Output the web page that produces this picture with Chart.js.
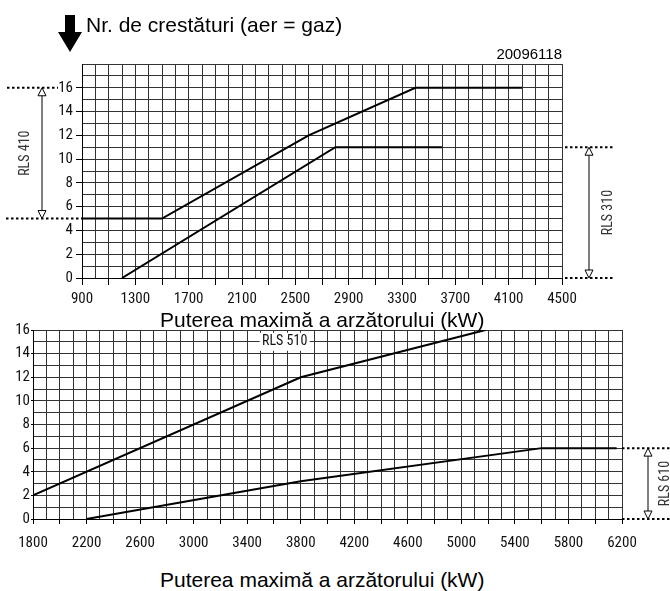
<!DOCTYPE html>
<html>
<head>
<meta charset="utf-8">
<script src="https://cdn.jsdelivr.net/npm/chart.js@4.4.1/dist/chart.umd.min.js"></script>
<style>
  html, body { margin: 0; padding: 0; background: #fff; }
  body { width: 670px; height: 591px; position: relative; overflow: hidden; font-family: "Liberation Sans", Arial, sans-serif; }
  .box { position: absolute; left: 0; width: 670px; }
  .txt { position: absolute; line-height: 1; white-space: nowrap; color: #000; }
</style>
</head>
<body>
<div class="box" style="top:0;height:305px"><canvas id="topChart"></canvas></div>
<div class="box" style="top:320px;height:240px"><canvas id="bottomChart"></canvas></div>

<svg style="position:absolute;left:0;top:0" width="100" height="60">
  <polygon points="65,15 75,15 75,32 82,32 70,52 58,32 65,32" fill="#000"/>
</svg>
<div class="txt" style="left:86px;top:14px;font-size:21px">Nr. de crestături (aer = gaz)</div>
<div class="txt" style="right:108px;top:46px;font-size:15px">20096118</div>
<div class="txt" style="left:160px;top:309px;font-size:21px">Puterea maximă a arzătorului (kW)</div>
<div class="txt" style="left:160px;top:569px;font-size:21px">Puterea maximă a arzătorului (kW)</div>

<script>
// grafic de sus: RLS 410 si RLS 310
const topXTicks = [900, 1300, 1700, 2100, 2500, 2900, 3300, 3700, 4100, 4500];
const topYTicks = [0, 2, 4, 6, 8, 10, 12, 14, 16];
const rls410Power = [900, 1500, 2600, 3400, 4200];
const rls410Notches = [5, 5, 12, 16, 16];
const rls310Power = [1200, 2800, 3600];
const rls310Notches = [0, 11, 11];

// grafic de jos: RLS 510 si RLS 610
const bottomXTicks = [1800, 2200, 2600, 3000, 3400, 3800, 4200, 4600, 5000, 5400, 5800, 6200];
const bottomYTicks = [0, 2, 4, 6, 8, 10, 12, 14, 16];
const rls510Power = [1800, 3800, 5180];
const rls510Notches = [2, 12, 16];
const rls610Power = [2200, 3800, 5600, 6160];
const rls610Notches = [0, 3.2, 6, 6];

// intervalele marcate cu sageti
const rls410Range = [5, 16];
const rls310Range = [0, 11];
const rls610Range = [0, 6];

const narrow = '"Roboto Condensed", "DejaVu Sans Condensed", sans-serif';
Chart.defaults.font.family = narrow;
Chart.defaults.color = '#111';

function toPoints(xs, ys) {
    return xs.map((x, i) => ({ x: x, y: ys[i] }));
}

function lineSet(xs, ys) {
    return {
        data: toPoints(xs, ys),
        borderColor: '#000',
        borderWidth: 2,
        pointRadius: 0,
        fill: false,
        tension: 0
    };
}

// sageata verticala cu varfuri deschise
function drawArrow(ctx, x, yTop, yBot) {
    ctx.setLineDash([]);
    ctx.lineWidth = 1;
    ctx.strokeStyle = '#000';
    ctx.beginPath();
    ctx.moveTo(x, yTop + 8);
    ctx.lineTo(x, yBot - 8);
    ctx.stroke();
    ctx.fillStyle = '#fff';
    ctx.beginPath();
    ctx.moveTo(x, yTop); ctx.lineTo(x - 4, yTop + 8); ctx.lineTo(x + 4, yTop + 8); ctx.closePath();
    ctx.fill(); ctx.stroke();
    ctx.beginPath();
    ctx.moveTo(x, yBot); ctx.lineTo(x - 4, yBot - 8); ctx.lineTo(x + 4, yBot - 8); ctx.closePath();
    ctx.fill(); ctx.stroke();
}

const bracketPlugin = {
    id: 'bracket',
    afterDraw(chart, args, opts) {
        const ctx = chart.ctx;
        const y = chart.scales.y;
        const x = chart.scales.x;
        const area = chart.chartArea;
        ctx.save();
        (opts.ranges || []).forEach(r => {
            const yLo = y.getPixelForValue(r.range[0]);
            const yHi = y.getPixelForValue(r.range[1]);
            const base = r.side === 'left' ? area.left : area.right;
            ctx.setLineDash([2.5, 2.5]);
            ctx.lineWidth = 2;
            ctx.strokeStyle = '#000';
            [[yHi, r.dotsHi], [yLo, r.dotsLo]].forEach(([py, d]) => {
                ctx.beginPath();
                ctx.moveTo(base + d[0], py);
                ctx.lineTo(base + d[1], py);
                ctx.stroke();
            });
            drawArrow(ctx, base + r.arrow, yHi, yLo);
            ctx.save();
            ctx.translate(base + r.text, (yHi + yLo) / 2);
            ctx.rotate(-Math.PI / 2);
            ctx.font = '14px ' + narrow;
            ctx.fillStyle = '#333';
            ctx.textAlign = 'center';
            ctx.textBaseline = 'middle';
            ctx.fillText(r.label, 0, 0);
            ctx.restore();
        });
        (opts.tags || []).forEach(t => {
            const px = x.getPixelForValue(t.x);
            const py = y.getPixelForValue(t.y);
            ctx.fillStyle = '#fff';
            ctx.fillRect(px - 25, py - 9, 50, 18);
            ctx.font = '14px ' + narrow;
            ctx.fillStyle = '#111';
            ctx.textAlign = 'center';
            ctx.textBaseline = 'middle';
            ctx.fillText(t.text, px, py);
        });
        ctx.restore();
    }
};

function makeScales(s) {
    return {
        x: {
            type: 'linear',
            min: s.xMin,
            max: s.xMax,
            afterFit: scale => { scale.height = s.xHeight; },
            border: { color: '#000', width: 1 },
            grid: {
                color: '#333',
                lineWidth: 1,
                tickLength: s.xTickLen,
                tickColor: c => ((Math.round(c.tick.value) - s.xMin) % 200 === 0 ? '#000' : 'rgba(0,0,0,0)')
            },
            ticks: {
                stepSize: 100,
                autoSkip: false,
                maxRotation: 0,
                padding: s.xPad,
                font: { size: 15 },
                callback: v => (s.xTicks.includes(Math.round(v)) ? String(Math.round(v)) : '')
            }
        },
        y: {
            type: 'linear',
            min: 0,
            max: s.yMax,
            afterFit: scale => { scale.width = s.yWidth; },
            border: { color: '#000', width: 1 },
            grid: {
                color: '#333',
                lineWidth: 1,
                tickLength: s.yTickLen,
                tickColor: c => (s.yTicks.includes(Math.round(c.tick.value)) ? '#000' : 'rgba(0,0,0,0)')
            },
            ticks: {
                stepSize: 1,
                autoSkip: false,
                padding: s.yPad,
                font: { size: 15 },
                callback: v => (s.yTicks.includes(Math.round(v)) ? String(Math.round(v)) : '')
            }
        }
    };
}

new Chart(document.getElementById('topChart'), {
    type: 'line',
    data: {
        datasets: [
            lineSet(rls410Power, rls410Notches),
            lineSet(rls310Power, rls310Notches)
        ]
    },
    options: {
        responsive: true,
        maintainAspectRatio: false,
        animation: false,
        layout: { padding: { top: 64, right: 108, left: 0, bottom: 0 } },
        plugins: {
            legend: { display: false },
            tooltip: { enabled: false },
            bracket: {
                ranges: [
                    { range: rls410Range, side: 'left', label: 'RLS 410', dotsHi: [-75, -24], dotsLo: [-76, 0], arrow: -40, text: -57 },
                    { range: rls310Range, side: 'right', label: 'RLS 310', dotsHi: [3, 51], dotsLo: [3, 51], arrow: 27, text: 46 }
                ]
            }
        },
        scales: makeScales({
            xMin: 900, xMax: 4500, yMax: 18,
            xTicks: topXTicks, yTicks: topYTicks,
            yWidth: 82, xHeight: 27,
            xTickLen: 7, xPad: 5, yTickLen: 6, yPad: 3
        })
    },
    plugins: [bracketPlugin]
});

new Chart(document.getElementById('bottomChart'), {
    type: 'line',
    data: {
        datasets: [
            lineSet(rls510Power, rls510Notches),
            lineSet(rls610Power, rls610Notches)
        ]
    },
    options: {
        responsive: true,
        maintainAspectRatio: false,
        animation: false,
        layout: { padding: { top: 9, right: 48, left: 0, bottom: 0 } },
        plugins: {
            legend: { display: false },
            tooltip: { enabled: false },
            bracket: {
                ranges: [
                    { range: rls610Range, side: 'right', label: 'RLS 610', dotsHi: [0, 48], dotsLo: [0, 48], arrow: 26, text: 43 }
                ],
                tags: [{ x: 3680, y: 15, text: 'RLS 510' }]
            }
        },
        scales: makeScales({
            xMin: 1800, xMax: 6200, yMax: 16,
            xTicks: bottomXTicks, yTicks: bottomYTicks,
            yWidth: 33, xHeight: 41,
            xTickLen: 5, xPad: 10, yTickLen: 2, yPad: 1
        })
    },
    plugins: [bracketPlugin]
});
</script>
</body>
</html>
